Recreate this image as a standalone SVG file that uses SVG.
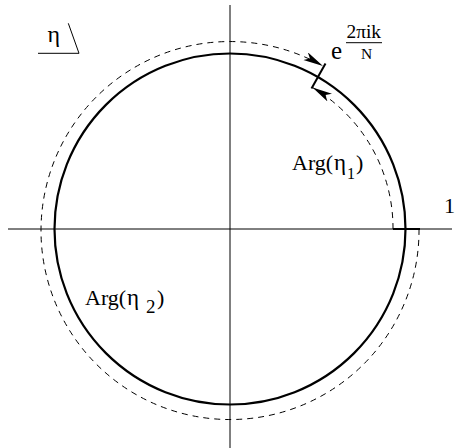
<svg xmlns="http://www.w3.org/2000/svg" width="455" height="448" viewBox="0 0 455 448">
<style>
.axis{stroke:#000;stroke-width:1;fill:none}
.solid{stroke:#000;stroke-width:2.2;fill:none}
.dash{stroke:#000;stroke-width:1;fill:none;stroke-dasharray:6 5}
.thick{stroke:#000;stroke-width:2;fill:none}
.thin{stroke:#000;stroke-width:1;fill:none}
text{font-family:"Liberation Serif","Times New Roman",serif;fill:#000}
.lbl{font-size:22px}
.eta{font-size:23px}
</style>
<defs>
<marker id="ah" markerUnits="userSpaceOnUse" markerWidth="22" markerHeight="10" refX="20" refY="4.5" orient="auto">
<path d="M0,0 L20,4.5 L0,9 L5,4.5 z" fill="#000"/>
</marker>
</defs>
<g id="axes">
<line class="axis" x1="230" y1="5" x2="230" y2="448"/>
<line class="axis" x1="8" y1="229" x2="452" y2="229"/>
</g>
<g id="unit-circle">
<circle class="solid" cx="230" cy="229" r="175.5"/>
</g>
<g id="connectors">
<path class="dash" d="M419,229 A189,189 0 1 1 323,66" marker-end="url(#ah)"/>
<path class="dash" d="M393,229 A163,163 0 0 0 312.5,87.5" marker-end="url(#ah)"/>
<line class="thick" x1="393" y1="229" x2="420" y2="229"/>
<line class="thick" x1="311.5" y1="88.5" x2="325.5" y2="63.5"/>
</g>
<g id="eta-label">
<text x="47.5" y="42" font-size="24">η</text>
<polyline class="thin" points="38,53.3 79,53.3 68.3,23.3"/>
</g>
<g id="exp-label">
<text x="331" y="59" font-size="25">e</text>
<text x="346.5" y="38" font-size="18" textLength="34.5" lengthAdjust="spacingAndGlyphs">2πik</text>
<line class="thin" x1="346" y1="42.7" x2="382" y2="42.7"/>
<text x="361" y="59" font-size="15.5">N</text>
</g>
<g id="arg1-label">
<text class="lbl" x="292" y="169.5">Arg(</text>
<text class="eta" x="334" y="169.5">η</text>
<text x="347" y="179" font-size="16">1</text>
<text class="lbl" x="356" y="169.5">)</text>
</g>
<g id="arg2-label">
<text class="lbl" x="85" y="305">Arg(</text>
<text class="eta" x="127" y="305">η</text>
<text x="146" y="313" font-size="19">2</text>
<text class="lbl" x="157" y="305">)</text>
</g>
<g id="one-label">
<text x="444" y="213" font-size="22">1</text>
</g>
</svg>
